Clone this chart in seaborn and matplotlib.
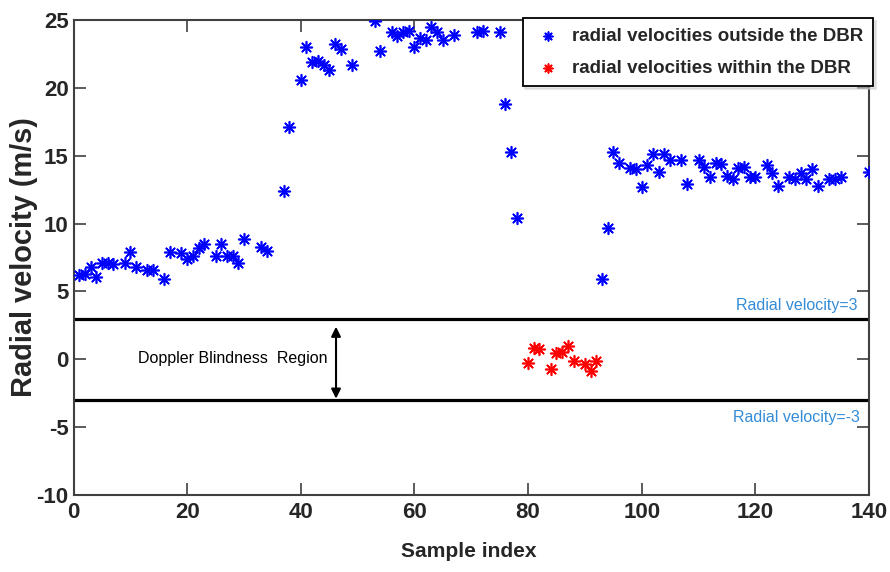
import matplotlib
matplotlib.use("Agg")
import matplotlib.pyplot as plt
from matplotlib.font_manager import FontProperties
import seaborn as sns
import pandas as pd

# ---------------- data ----------------
outside_x = [1, 2, 3, 4, 5, 6, 7, 9, 10, 11, 13, 14, 16, 17, 19, 20, 21, 22, 23, 25,
             26, 27, 28, 29, 30, 33, 34,
             37, 38, 40, 41, 42, 43, 44, 45, 46, 47, 49, 53, 54, 56, 57, 58, 59, 60,
             61, 62, 63, 64, 65, 67, 71, 72, 75, 76, 77, 78,
             93, 94, 95, 96, 98, 99, 100, 101, 102, 103, 104, 105, 107, 108, 110, 111,
             112, 113, 114, 115, 116, 117, 118, 119, 120, 122, 123, 124, 126, 127, 128,
             129, 130, 131, 133, 134, 135, 140]
outside_v = [6.2, 6.3, 6.8, 6.1, 7.1, 7.1, 7.0, 7.1, 7.9, 6.8, 6.6, 6.6, 5.9, 7.9, 7.8,
             7.4, 7.6, 8.2, 8.5, 7.6, 8.5, 7.6, 7.6, 7.1, 8.9, 8.3, 8.0,
             12.4, 17.1, 20.6, 23.0, 21.9, 22.0, 21.7, 21.3, 23.2, 22.9, 21.7, 24.9,
             22.7, 24.1, 23.8, 24.1, 24.2, 23.0, 23.7, 23.5, 24.5, 24.1, 23.5, 23.9,
             24.1, 24.2, 24.1, 18.8, 15.3, 10.4,
             5.9, 9.7, 15.3, 14.5, 14.1, 14.0, 12.7, 14.3, 15.1, 13.8, 15.1, 14.7,
             14.7, 12.9, 14.7, 14.2, 13.4, 14.5, 14.4, 13.5, 13.3, 14.1, 14.2, 13.4,
             13.4, 14.3, 13.7, 12.8, 13.4, 13.3, 13.7, 13.3, 14.0, 12.8, 13.3, 13.3,
             13.4, 13.8]

within_x = [80, 81, 82, 84, 85, 86, 87, 88, 90, 91, 92]
within_v = [-0.25, 0.85, 0.74, -0.74, 0.49, 0.56, 0.98, -0.13, -0.37, -0.86, -0.13]

x_ticks = [0, 20, 40, 60, 80, 100, 120, 140]
y_ticks = [-10, -5, 0, 5, 10, 15, 20, 25]
dbr_limits = [3, -3]
labels = ["radial velocities outside the DBR", "radial velocities within the DBR"]

df_out = pd.DataFrame({"Sample index": outside_x, "Radial velocity": outside_v})
df_in = pd.DataFrame({"Sample index": within_x, "Radial velocity": within_v})

# ---------------- style ----------------
sns.set_theme(style="white")
FAM = ["Liberation Sans", "DejaVu Sans"]
plt.rcParams["font.family"] = FAM
FP_B = FontProperties(family=FAM, weight="bold")
FP_R = FontProperties(family=FAM, weight="normal")


def fp(base, size):
    p = base.copy()
    p.set_size(size)
    return p


fig = plt.figure(figsize=(8.9, 5.72), dpi=100)
ax = fig.add_axes([0.0826, 0.1346, 0.8938, 0.8304])

ast = (8, 2, 0)
sns.scatterplot(data=df_out, x="Sample index", y="Radial velocity", ax=ax,
                marker=ast, color="#0000ff", edgecolor="#0000ff", s=70,
                linewidth=1.2, label=labels[0], zorder=3)
sns.scatterplot(data=df_in, x="Sample index", y="Radial velocity", ax=ax,
                marker=ast, color="#ff0000", edgecolor="#ff0000", s=70,
                linewidth=1.2, label=labels[1], zorder=3)

for yv in dbr_limits:
    ax.axhline(yv, color="black", lw=2.3, zorder=2)

ax.set_xlim(0, 140)
ax.set_ylim(-10, 25)
ax.set_xticks(x_ticks)
ax.set_yticks(y_ticks)
ax.set_xticklabels([str(v) for v in x_ticks], fontproperties=fp(FP_B, 16))
ax.set_yticklabels([str(v) for v in y_ticks], fontproperties=fp(FP_B, 16))
ax.tick_params(axis="both", direction="in", length=8.5, width=1.2, color="#404040",
               top=True, right=True, bottom=True, left=True)
ax.tick_params(axis="x", pad=5)
ax.tick_params(axis="y", pad=3.5)
for sp in ax.spines.values():
    sp.set_visible(True)
    sp.set_color("#404040")
    sp.set_linewidth(1.5)

ax.set_xlabel("Sample index", fontproperties=fp(FP_B, 15))
ax.xaxis.set_label_coords(0.497, -0.118)
ax.xaxis.label.set_verticalalignment("center")
ax.set_ylabel("Radial velocity (m/s)", fontproperties=fp(FP_B, 20))
ax.yaxis.set_label_coords(-0.062, 0.5)
ax.yaxis.label.set_verticalalignment("center")

# annotations
t_dbr = ax.text(28.1, 0.05, "Doppler Blindness  Region", ha="center", va="center",
                fontproperties=fp(FP_R, 12), color="black")
ax.annotate("", xy=(46.2, 2.4), xytext=(46.2, -2.9),
            arrowprops=dict(arrowstyle="<|-|>", color="black", lw=1.5,
                            mutation_scale=14, shrinkA=0, shrinkB=0))
t_p3 = ax.text(137.9, 3.4, "Radial velocity=3", ha="right", va="bottom",
               fontproperties=fp(FP_R, 12), color="#348cd7")
t_m3 = ax.text(138.4, -3.7, "Radial velocity=-3", ha="right", va="top",
               fontproperties=fp(FP_R, 12), color="#348cd7")

leg = ax.legend(loc="upper right", bbox_to_anchor=(1.005, 1.004), borderaxespad=0,
                frameon=True, fancybox=False, shadow={"color": "0.8"},
                prop=fp(FP_B, 13.5),
                borderpad=0.5, handlelength=1.7, handletextpad=0.45,
                labelspacing=0.8, markerscale=0.75)
leg.get_frame().set_edgecolor("black")
leg.get_frame().set_linewidth(1.3)
leg.set_zorder(5)


# ---- fit text extents to the reference's measured pixel lengths ----
def fit(group, ref, target, use_height=False):
    for _ in range(2):
        fig.canvas.draw()
        r = fig.canvas.get_renderer()
        bb = ref.get_window_extent(r)
        w = bb.height if use_height else bb.width
        if w <= 0:
            return
        k = target / w
        for t in group:
            t.set_fontsize(t.get_fontsize() * k)


fit([ax.xaxis.label], ax.xaxis.label, 136)
fit([ax.yaxis.label], ax.yaxis.label, 280, use_height=True)
fit([t_dbr], t_dbr, 190)
fit([t_p3, t_m3], t_p3, 122)
fit(leg.get_texts(), leg.get_texts()[0], 290)

fig.savefig("out.png", dpi=100, facecolor="white")
